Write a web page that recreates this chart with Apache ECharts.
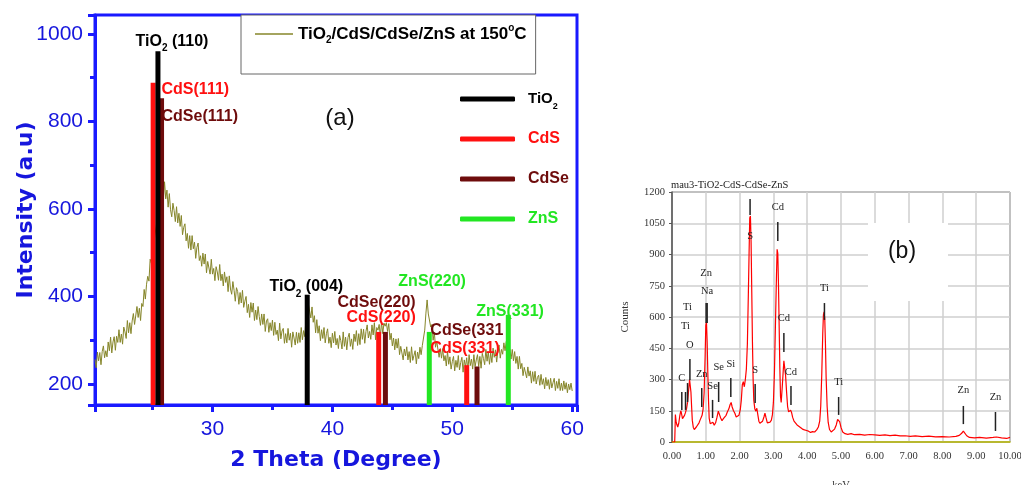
<!DOCTYPE html>
<html>
<head>
<meta charset="utf-8">
<title>XRD / EDS</title>
<script src="https://cdn.jsdelivr.net/npm/echarts@6.0.0/dist/echarts.min.js"></script>
<style>html,body{margin:0;background:#fff}</style>
</head>
<body>
<div id="chart" style="width:1021px;height:485px"></div>
<script>
// ---- (a) XRD pattern, sampled every 0.1 deg from 20.2 deg ----
const xrdName = 'TiO2/CdS/CdSe/ZnS at 150°C';
const xrdStart = 20.2, xrdStep = 0.1;
const xrdCounts = [
  256,237,273,253,272,244,274,287,260,276,
  262,296,276,307,271,296,308,277,309,295,
  324,295,314,291,330,319,304,345,317,340,
  315,344,361,336,334,377,352,373,345,384,
  377,416,394,428,446,435,485,476,510,520,
  540,560,580,598,597,630,640,620,662,623,
  643,604,635,598,582,613,596,571,605,568,
  590,560,585,541,558,566,527,544,510,539,
  506,539,509,524,487,512,522,482,493,469,
  499,474,497,454,480,481,451,485,451,464,
  436,468,456,437,473,436,451,424,456,432,
  445,411,447,417,405,434,414,389,420,411,
  382,409,385,414,375,389,400,363,382,352,
  386,364,385,345,369,347,377,354,334,360,
  336,360,320,344,349,318,340,322,346,311,
  341,313,323,299,339,303,321,327,293,315,
  294,327,300,316,284,319,305,289,318,293,
  317,295,329,301,322,308,352,354,382,385,
  351,376,341,356,317,347,316,333,299,324,
  304,329,294,315,326,293,307,283,316,294,
  320,289,304,281,311,299,280,319,286,307,
  278,306,316,286,303,279,314,297,322,288,
  315,290,326,302,325,293,320,335,305,320,
  302,335,312,340,301,329,323,336,308,342,
  315,339,332,340,320,338,301,316,287,305,
  278,303,282,304,267,286,290,255,280,264,
  285,255,274,249,285,254,265,276,246,273,
  258,284,267,288,285,323,362,392,360,362,
  330,336,300,318,284,298,301,261,281,259,
  281,253,265,241,275,245,262,234,251,263,
  230,254,238,265,232,249,261,227,255,239,
  260,230,267,242,257,234,267,240,255,267,
  240,263,236,270,258,244,279,252,274,245,
  271,249,282,261,278,250,276,289,259,279,
  268,294,276,297,301,267,279,257,279,253,
  274,247,263,234,263,235,247,219,238,242,
  214,239,218,230,202,228,206,229,200,215,
  220,197,222,199,212,189,215,196,210,188,
  213,191,203,213,185,206,190,212,185,202,
  185,207,188,203,180,200,187,202,184
];
// reference peak positions [2theta, intensity]
const tio2Sticks = [[25.45, 960], [37.9, 404]];
const cdsSticks = [[25.05, 888], [43.86, 319], [51.2, 243]];
const cdseSticks = [[25.75, 853], [44.42, 319], [52.06, 240]];
const znsSticks = [[48.08, 319], [54.67, 358]];
// peak labels [2theta, intensity, text, colour]
const xrdLabels = [
  [23.58, 982, 'TiO2 (110)', '#000000'],
  [25.75, 872, 'CdS(111)', '#ff1010'],
  [25.75, 810, 'CdSe(111)', '#6e0c0c'],
  [34.75, 422, 'TiO2 (004)', '#000000'],
  [40.42, 385, 'CdSe(220)', '#6e0c0c'],
  [41.17, 351, 'CdS(220)', '#ff1010'],
  [45.5, 433, 'ZnS(220)', '#22e622'],
  [52.0, 365, 'ZnS(331)', '#22e622'],
  [48.17, 323, 'CdSe(331', '#6e0c0c'],
  [48.17, 282, 'CdS(331)', '#ff1010']
];

// ---- (b) EDS spectrum [keV, counts] ----
const edsSpectrum = [
  [0.00,0],[0.08,0],[0.09,60],[0.10,132],[0.12,100],[0.14,85],[0.17,72],[0.20,90],[0.23,125],[0.26,150],
  [0.28,138],[0.31,112],[0.34,104],[0.37,128],[0.40,142],[0.43,160],[0.46,190],[0.49,245],[0.52,300],[0.54,295],
  [0.56,240],[0.58,170],[0.60,105],[0.63,70],[0.66,60],[0.69,66],[0.72,72],[0.76,78],[0.80,92],[0.83,105],
  [0.86,112],[0.89,128],[0.92,158],[0.95,235],[0.98,410],[1.00,560],[1.02,575],[1.04,480],[1.06,330],[1.08,200],
  [1.10,115],[1.13,88],[1.17,82],[1.21,95],[1.25,80],[1.29,92],[1.33,118],[1.37,148],[1.40,140],[1.44,115],
  [1.48,102],[1.52,112],[1.56,118],[1.60,128],[1.64,145],[1.68,158],[1.72,180],[1.75,190],[1.78,168],[1.82,150],
  [1.86,138],[1.90,120],[1.94,112],[1.98,128],[2.02,155],[2.05,200],[2.08,275],[2.11,290],[2.14,265],[2.17,300],
  [2.20,350],[2.23,470],[2.26,720],[2.28,900],[2.30,1075],[2.32,1085],[2.34,960],[2.36,720],[2.38,480],[2.40,300],
  [2.42,200],[2.45,160],[2.48,148],[2.51,162],[2.54,130],[2.57,100],[2.60,90],[2.64,86],[2.68,100],[2.72,120],
  [2.75,138],[2.78,118],[2.82,92],[2.86,86],[2.90,95],[2.94,105],[2.97,130],[3.00,190],[3.03,330],[3.06,560],
  [3.09,790],[3.11,925],[3.13,905],[3.15,760],[3.17,560],[3.19,360],[3.21,220],[3.23,190],[3.26,260],[3.29,340],
  [3.31,390],[3.33,385],[3.36,320],[3.39,240],[3.42,170],[3.45,145],[3.48,138],[3.51,152],[3.54,140],[3.57,118],
  [3.61,100],[3.65,92],[3.70,82],[3.75,74],[3.80,70],[3.86,62],[3.92,58],[3.98,55],[4.04,52],[4.10,46],
  [4.16,50],[4.22,48],[4.28,58],[4.33,72],[4.37,100],[4.40,170],[4.43,320],[4.46,520],[4.48,610],[4.50,625],
  [4.52,590],[4.54,470],[4.56,310],[4.59,170],[4.62,95],[4.66,60],[4.71,48],[4.76,52],[4.81,62],[4.86,82],
  [4.90,108],[4.93,114],[4.96,98],[5.00,70],[5.05,48],[5.12,40],[5.20,37],[5.30,40],[5.40,35],[5.55,37],
  [5.70,33],[5.85,36],[6.00,34],[6.15,32],[6.30,34],[6.45,31],[6.60,33],[6.75,29],[6.90,30],[7.05,27],
  [7.20,29],[7.40,26],[7.60,28],[7.80,25],[8.00,26],[8.20,24],[8.40,27],[8.50,32],[8.57,42],[8.62,52],
  [8.67,45],[8.72,30],[8.80,22],[8.95,20],[9.10,22],[9.30,19],[9.50,22],[9.60,24],[9.75,20],[9.90,17],[10.00,22]
];
// element markers [keV, line from, line to, label at, element]
const edsMarkers = [
  [0.29, 154, 240, 307, 'C'],
  [0.40, 154, 240, 557, 'Ti'],
  [0.46, 192, 283, 648, 'Ti'],
  [0.53, 298, 398, 466, 'O'],
  [0.88, 168, 259, 326, 'Zn'],
  [1.01, 571, 667, 811, 'Zn'],
  [1.04, 571, 667, 725, 'Na'],
  [1.20, 115, 202, 269, 'Se'],
  [1.38, 192, 288, 360, 'Se'],
  [1.74, 216, 307, 374, 'Si'],
  [2.31, 1090, 1166, 990, 'S'],
  [2.46, 187, 278, 346, 'S'],
  [3.13, 965, 1056, 1128, 'Cd'],
  [3.31, 432, 523, 595, 'Cd'],
  [3.52, 178, 269, 336, 'Cd'],
  [4.51, 586, 667, 739, 'Ti'],
  [4.93, 130, 216, 288, 'Ti'],
  [8.62, 86, 173, 250, 'Zn'],
  [9.57, 53, 144, 216, 'Zn']
];

const blue = '#1a1aff', blueText = '#1616dd';
const serif = '"Liberation Serif","Times New Roman",serif';

// TiO2 -> rich text with subscript 2
function subTi(text) {
  if (text.indexOf('TiO2') !== 0) return text;
  return '{t|TiO}{s|2}' + (text.length > 4 ? '{t|' + text.slice(4) + '}' : '');
}
const richA = {
  t: { fontSize: 16, fontWeight: 'bold', fontFamily: 'Arial', lineHeight: 24, color: '#000' },
  s: { fontSize: 10, fontWeight: 'bold', fontFamily: 'Arial', lineHeight: 6, verticalAlign: 'bottom', color: '#000' }
};

function stickSeries(name, data, color) {
  return {
    type: 'bar', name: name, xAxisIndex: 0, yAxisIndex: 0,
    data: data, barWidth: 5, barGap: '-100%', color: color,
    itemStyle: { color: color }, clip: true, silent: true, z: 3
  };
}

const chart = echarts.init(document.getElementById('chart'));
chart.setOption({
  animation: false,
  backgroundColor: '#fff',
  title: {
    text: 'mau3-TiO2-CdS-CdSe-ZnS', left: 671, top: 180, padding: 0,
    textStyle: { fontFamily: serif, fontSize: 10.5, fontWeight: 'normal', color: '#222' }
  },
  legend: [
    {
      data: [xrdName], selectedMode: false, left: 241, top: 15,
      padding: [8, 9, 29, 14], borderColor: '#666', borderWidth: 1, backgroundColor: '#fff',
      icon: 'rect', itemWidth: 38, itemHeight: 1.5,
      formatter: () => '{t|TiO}{s|2}{t|/CdS/CdSe/ZnS at 150}{p|o}{t|C}',
      textStyle: {
        color: '#000',
        rich: {
          t: { fontSize: 17, fontWeight: 'bold', fontFamily: 'Arial', lineHeight: 22, color: '#000' },
          s: { fontSize: 10, fontWeight: 'bold', fontFamily: 'Arial', lineHeight: 6, verticalAlign: 'bottom', color: '#000' },
          p: { fontSize: 10, fontWeight: 'bold', fontFamily: 'Arial', lineHeight: 6, verticalAlign: 'top', color: '#000' }
        }
      }
    },
    {
      data: [
        { name: 'TiO2', textStyle: { color: '#000' } },
        { name: 'CdS', textStyle: { color: '#ff1010' } },
        { name: 'CdSe', textStyle: { color: '#6e0c0c' } },
        { name: 'ZnS', textStyle: { color: '#22e622' } }
      ],
      selectedMode: false, orient: 'vertical', left: 455, top: 82,
      icon: 'roundRect', itemWidth: 55, itemHeight: 5, itemGap: 16,
      formatter: n => subTi(n),
      textStyle: {
        fontSize: 16, fontWeight: 'bold', fontFamily: 'Arial', lineHeight: 24,
        padding: [0, 0, 0, 8],
        rich: {
          t: { fontSize: 15, fontWeight: 'bold', fontFamily: 'Arial', lineHeight: 24, color: '#000' },
          s: { fontSize: 9, fontWeight: 'bold', fontFamily: 'Arial', lineHeight: 6, verticalAlign: 'bottom', color: '#000' }
        }
      }
    }
  ],
  grid: [
    { left: 95, top: 15, width: 482, height: 390, outerBoundsMode: 'none', show: true, borderColor: blue, borderWidth: 3, backgroundColor: 'transparent' },
    { left: 672, top: 192, width: 338, height: 250, outerBoundsMode: 'none', show: true, borderColor: '#333', borderWidth: 1, backgroundColor: 'transparent' }
  ],
  xAxis: [
    {
      gridIndex: 0, type: 'value', min: 20.2, max: 60.4, splitNumber: 5,
      axisLine: { lineStyle: { color: blue, width: 3 } },
      axisTick: { length: 7, lineStyle: { color: blue, width: 3 } },
      minorTick: { show: true, splitNumber: 2, length: 5, lineStyle: { color: blue, width: 3 } },
      splitLine: { show: false },
      axisLabel: { color: blueText, fontSize: 21, fontFamily: 'Arial', margin: 14, showMinLabel: false, showMaxLabel: false, formatter: v => String(v) },
      name: '2 Theta (Degree)', nameLocation: 'middle', nameGap: 44, nameMoveOverlap: false,
      nameTextStyle: { color: blueText, fontSize: 22, fontWeight: 'bold', fontFamily: 'DejaVu Sans' }
    },
    {
      gridIndex: 1, type: 'value', min: 0, max: 10, interval: 1,
      axisLine: { lineStyle: { color: '#b5b500', width: 1.5 } },
      axisTick: { show: false },
      splitLine: { show: true, lineStyle: { color: '#cfcfcf', width: 1.5 } },
      axisLabel: { color: '#333', fontSize: 10.5, fontFamily: serif, margin: 9, formatter: v => v.toFixed(2) },
      name: 'keV', nameLocation: 'middle', nameGap: 38, nameMoveOverlap: false,
      nameTextStyle: { color: '#333', fontSize: 10.5, fontFamily: serif }
    }
  ],
  yAxis: [
    {
      gridIndex: 0, type: 'value', min: 152, max: 1043, splitNumber: 5,
      axisLine: { lineStyle: { color: blue, width: 3 } },
      axisTick: { length: 7, lineStyle: { color: blue, width: 3 } },
      minorTick: { show: true, splitNumber: 2, length: 5, lineStyle: { color: blue, width: 3 } },
      splitLine: { show: false },
      axisLabel: { color: blueText, fontSize: 21, fontFamily: 'Arial', margin: 12, showMinLabel: false, showMaxLabel: false, formatter: v => String(v) },
      name: 'Intensity (a.u)', nameLocation: 'middle', nameGap: 58, nameMoveOverlap: false,
      nameTextStyle: { color: blueText, fontSize: 22, fontWeight: 'bold', fontFamily: 'DejaVu Sans' }
    },
    {
      gridIndex: 1, type: 'value', min: 0, max: 1200, interval: 150,
      axisLine: { lineStyle: { color: '#555', width: 1.5 } },
      axisTick: { length: 3, lineStyle: { color: '#555' } },
      splitLine: { show: true, lineStyle: { color: '#cfcfcf', width: 1.5 } },
      axisLabel: { color: '#333', fontSize: 10.5, fontFamily: serif, margin: 7, formatter: v => String(v) },
      name: 'Counts', nameLocation: 'middle', nameGap: 41, nameMoveOverlap: false,
      nameTextStyle: { color: '#333', fontSize: 11, fontFamily: serif }
    }
  ],
  series: [
    {
      type: 'line', name: xrdName, xAxisIndex: 0, yAxisIndex: 0,
      data: xrdCounts.map((v, i) => [+(xrdStart + i * xrdStep).toFixed(1), v]),
      showSymbol: false, color: '#86862a',
      lineStyle: { color: '#86862a', width: 1 }, silent: true, z: 2
    },
    stickSeries('CdS', cdsSticks, '#ff1010'),
    stickSeries('CdSe', cdseSticks, '#6e0c0c'),
    stickSeries('TiO2', tio2Sticks, '#000000'),
    stickSeries('ZnS', znsSticks, '#22e622'),
    {
      type: 'scatter', xAxisIndex: 0, yAxisIndex: 0, symbolSize: 0, silent: true, z: 5,
      itemStyle: { opacity: 1 },
      data: xrdLabels.map(l => ({
        value: [l[0], l[1]],
        label: { show: true, position: 'right', distance: 0, color: l[3], opacity: 1, formatter: subTi(l[2]) }
      })),
      label: { fontSize: 16, fontWeight: 'bold', fontFamily: 'Arial', lineHeight: 24, rich: richA }
    },
    {
      type: 'line', xAxisIndex: 1, yAxisIndex: 1, data: edsSpectrum,
      showSymbol: false, lineStyle: { color: '#ff0000', width: 1.2 }, silent: true, z: 2
    },
    {
      type: 'custom', xAxisIndex: 1, yAxisIndex: 1, silent: true, z: 3,
      data: edsMarkers.map(m => m.slice(0, 4)),
      encode: { x: 0, y: 1 },
      renderItem: function (params, api) {
        const x = api.value(0);
        const p1 = api.coord([x, api.value(1)]);
        const p2 = api.coord([x, api.value(2)]);
        const pl = api.coord([x, api.value(3)]);
        return {
          type: 'group',
          children: [
            { type: 'line', shape: { x1: p1[0], y1: p1[1], x2: p2[0], y2: p2[1] }, style: { stroke: '#222', lineWidth: 1.5 } },
            { type: 'text', x: pl[0], y: pl[1], style: { text: edsMarkers[params.dataIndex][4], font: '10.5px ' + serif, fill: '#222', align: 'center', verticalAlign: 'middle' } }
          ]
        };
      }
    }
  ],
  graphic: [
    { type: 'text', x: 340, y: 118, z: 10, style: { text: '(a)', font: '24px Arial', fill: '#111', align: 'center', verticalAlign: 'middle' } },
    { type: 'rect', z: 10, shape: { x: 868, y: 223, width: 80, height: 78 }, style: { fill: '#fff' } },
    { type: 'text', x: 902, y: 252, z: 11, style: { text: '(b)', font: '23px Arial', fill: '#111', align: 'center', verticalAlign: 'middle' } }
  ]
});
</script>
</body>
</html>
